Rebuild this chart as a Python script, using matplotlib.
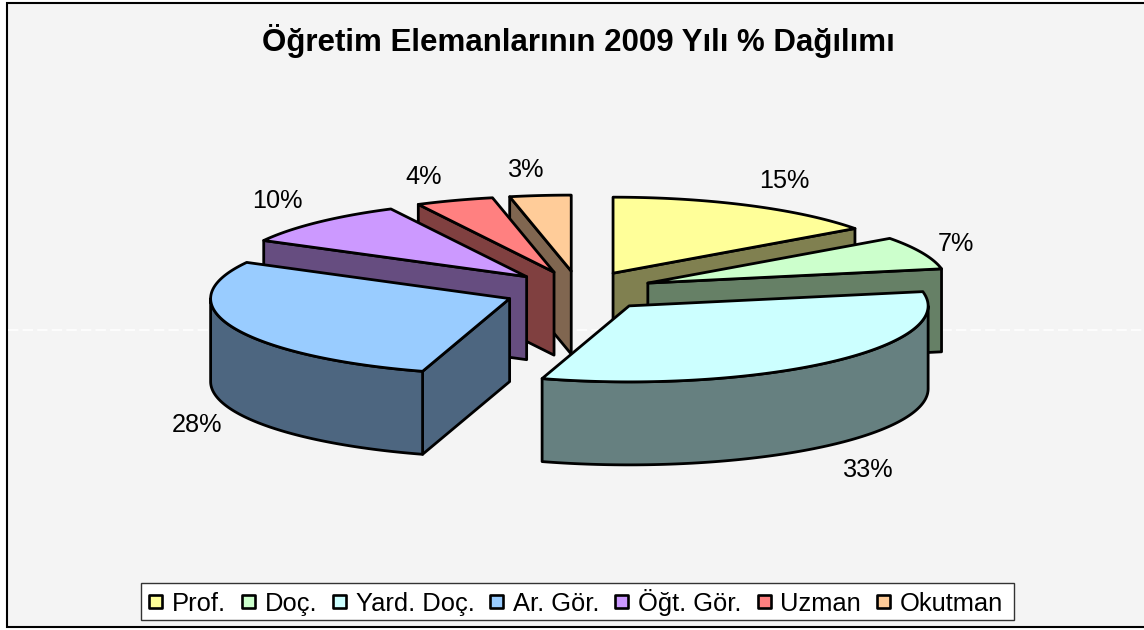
import numpy as np
import matplotlib
matplotlib.use('Agg')
import matplotlib.pyplot as plt
from matplotlib.patches import Polygon, Rectangle

plt.rcParams['font.family'] = ['Liberation Sans', 'DejaVu Sans']

names = ['Prof.', 'Doç.', 'Yard. Doç.', 'Ar. Gör.', 'Öğt. Gör.', 'Uzman', 'Okutman']
values = [15, 7, 32.7, 28.2, 9.6, 4.2, 3.3]
top_colors = ['#FFFF99', '#CCFFCC', '#CCFFFF', '#99CCFF', '#CC99FF', '#FF8080', '#FFCC99']
side_colors = ['#808050', '#668066', '#668080', '#4D6680', '#664D80', '#804040', '#806650']
# label offset from the middle of each slice's arc, pixels
label_dx = [36, 34, 39, -36, -41, -31, -14]
label_dy = [-24, -9, 108, 98, -21, -23, -26]

cx, cy = 579, 291
rx, ry = 299, 76
depth = 83
ex, ey = 75, 20
edge = 2.0


def arc(x0, y0, a1, a2):
    t = np.radians(np.linspace(a1, a2, 100))
    return np.column_stack([x0 + rx * np.sin(t), y0 - ry * np.cos(t)])


def add_poly(pts, color, z):
    ax.add_patch(Polygon(pts, facecolor=color, edgecolor='black', lw=edge, joinstyle='round', zorder=z))


fig = plt.figure(figsize=(11.44, 6.3), dpi=100, facecolor='white')
ax = fig.add_axes([0, 0, 1, 1])
ax.set_xlim(0, 1144)
ax.set_ylim(630, 0)
ax.axis('off')

ax.add_patch(Rectangle((6.5, 2.5), 1150, 624.5, facecolor='#F4F4F4', edgecolor='black', lw=1.5))
ax.plot([8, 1144], [330, 330], color='#FCFCFC', lw=1.5, ls=(0, (5, 2)), zorder=1)

total = sum(values)
shares = np.array(values) / total * 360
ends = np.cumsum(shares)
starts = ends - shares
mids = (starts + ends) / 2
xs = cx + ex * np.sin(np.radians(mids))
ys = cy - ey * np.cos(np.radians(mids))

z = 2
down = np.array([0, depth])
for i in np.argsort(ys):
    a1, a2 = starts[i], ends[i]
    apex = np.array([xs[i], ys[i]])
    top = arc(xs[i], ys[i], a1, a2)
    # only the radial walls that face the viewer
    if np.sin(np.radians(a1)) < -1e-6:
        add_poly([apex, top[0], top[0] + down, apex + down], side_colors[i], z)
        z += 1
    if np.sin(np.radians(a2)) > 1e-6:
        add_poly([apex, top[-1], top[-1] + down, apex + down], side_colors[i], z)
        z += 1
    lo, hi = max(a1, 90), min(a2, 270)
    if lo < hi:
        rim = arc(xs[i], ys[i], lo, hi)
        add_poly(np.vstack([rim, (rim + down)[::-1]]), side_colors[i], z)
        z += 1
    add_poly(np.vstack([apex, top]), top_colors[i], z)
    z += 1

for i in range(len(values)):
    m = arc(xs[i], ys[i], mids[i], mids[i])[0]
    ax.text(m[0] + label_dx[i], m[1] + label_dy[i], '%d%%' % round(values[i]), fontsize=18.2,
            ha='center', va='center', color='black', zorder=z)

ax.text(578, 41, 'Öğretim Elemanlarının 2009 Yılı % Dağılımı', fontsize=22.5, fontweight='bold',
        ha='center', va='center', color='black', zorder=z)

# legend drawn by hand so the row keeps one baseline
ax.add_patch(Rectangle((140.5, 582.5), 873, 37.5, facecolor='white', edgecolor='#333333', lw=1, zorder=z))
z += 1
renderer = fig.canvas.get_renderer()
x = 149
for name, color in zip(names, top_colors):
    ax.add_patch(Rectangle((x, 595), 13, 13, facecolor=color, edgecolor='black', lw=1.9,
                           joinstyle='round', zorder=z))
    t = ax.text(x + 23, 611, name, fontsize=18.4, ha='left', va='baseline', color='black', zorder=z)
    x = t.get_window_extent(renderer).x1 + 15.7

fig.savefig('out.png', dpi=100)
